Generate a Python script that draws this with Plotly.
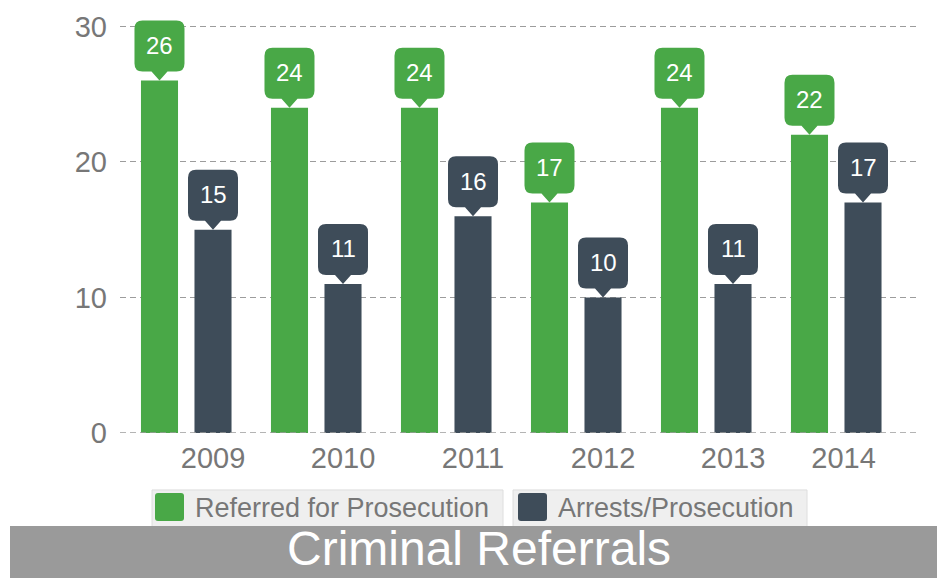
import plotly.graph_objects as go

# ---- data ----
YEARS = ["2009", "2010", "2011", "2012", "2013", "2014"]
REFERRED = [26, 24, 24, 17, 24, 22]
ARRESTS = [15, 11, 16, 10, 11, 17]
SERIES_NAMES = ["Referred for Prosecution", "Arrests/Prosecution"]
TITLE = "Criminal Referrals"
Y_TICKS = [0, 10, 20, 30]

# ---- style ----
GREEN = "#49a847"
SLATE = "#3e4c59"
GREY_TEXT = "#777777"
GRID = "#9c9c9c"
FONT = "Liberation Sans, Arial, sans-serif"

W, H = 937, 578
BASE_PX = 433          # pixel row of the zero line
PX_PER_UNIT = 407 / 30.0
Y_TOP = 31.8           # head-room above the 30 gridline for the value bubbles
L, R, B = 120, 17, H - BASE_PX
T = BASE_PX - Y_TOP * PX_PER_UNIT
PLOT_W, PLOT_H = W - L - R, H - T - B

HALF_GAP = 0.2058   # distance of each bar centre from the group centre
BAR_W = 0.285
X_RANGE = [-0.5096, -0.5096 + PLOT_W / 130.0]
LABEL_NUDGE = {5: -0.15}  # last year label sits a little left of its bar


def px_x(px):
    return (px - L) / PLOT_W


def px_y(py):
    return (H - B - py) / PLOT_H


idx = list(range(len(YEARS)))
x_green = [i - HALF_GAP for i in idx]
x_slate = [i + HALF_GAP for i in idx]

fig = go.Figure()
fig.add_trace(go.Bar(x=x_green, y=REFERRED, width=BAR_W, marker_color=GREEN,
                     marker_line_width=0, name=SERIES_NAMES[0]))
fig.add_trace(go.Bar(x=x_slate, y=ARRESTS, width=BAR_W, marker_color=SLATE,
                     marker_line_width=0, name=SERIES_NAMES[1]))

shapes = []
annotations = []

# speech-bubble value labels above each bar (pixel-sized, anchored at bar top)
BUBBLE = ("M 0,0 L 8,9 L 17,9 Q 25,9 25,17 L 25,52 Q 25,60 17,60 "
          "L -17,60 Q -25,60 -25,52 L -25,17 Q -25,9 -17,9 L -8,9 Z")
for xs, ys, col in ((x_green, REFERRED, GREEN), (x_slate, ARRESTS, SLATE)):
    for x, v in zip(xs, ys):
        shapes.append(dict(type="path", path=BUBBLE, xref="x", yref="y",
                           xsizemode="pixel", ysizemode="pixel",
                           xanchor=x, yanchor=v, fillcolor=col,
                           line=dict(width=0), layer="above"))
        annotations.append(dict(x=x, y=v, xref="x", yref="y", text=str(v),
                                showarrow=False, yshift=35, yanchor="middle",
                                font=dict(family=FONT, size=24, color="white")))

# dashed baseline drawn over the bars
shapes.append(dict(type="line", xref="paper", yref="y", x0=0, x1=1, y0=0, y1=0,
                   line=dict(color=GRID, width=1.3, dash="6px,4px"),
                   layer="above"))

# legend boxes
legend_items = [
    (152, 503, 155, 195, GREEN, SERIES_NAMES[0]),
    (513, 807, 518, 558, SLATE, SERIES_NAMES[1]),
]
for bx0, bx1, sx, tx, col, name in legend_items:
    shapes.append(dict(type="rect", xref="paper", yref="paper",
                       x0=px_x(bx0), x1=px_x(bx1), y0=px_y(527), y1=px_y(490),
                       fillcolor="#efefef", line=dict(color="#dedede", width=1),
                       layer="below"))
    shapes.append(dict(type="path", xref="paper", yref="paper",
                       xsizemode="pixel", ysizemode="pixel",
                       xanchor=px_x(sx), yanchor=px_y(521),
                       path="M 3,0 L 26,0 Q 29,0 29,3 L 29,25 Q 29,28 26,28 "
                            "L 3,28 Q 0,28 0,25 L 0,3 Q 0,0 3,0 Z",
                       fillcolor=col, line=dict(width=0)))
    annotations.append(dict(x=px_x(tx - 2), y=px_y(508), xref="paper", yref="paper",
                            text=name, showarrow=False, xanchor="left",
                            yanchor="middle",
                            font=dict(family=FONT, size=27, color=GREY_TEXT)))

# title banner
shapes.append(dict(type="rect", xref="paper", yref="paper",
                   x0=px_x(10), x1=px_x(W + 2), y0=px_y(H + 2), y1=px_y(526),
                   fillcolor="#9a9a9a", line=dict(width=0), layer="above"))
annotations.append(dict(x=px_x(479), y=px_y(549), xref="paper", yref="paper",
                        text=TITLE, showarrow=False, xanchor="center",
                        yanchor="middle", borderpad=0,
                        font=dict(family=FONT, size=48, color="white")))

tickvals = [i + HALF_GAP + LABEL_NUDGE.get(i, 0) for i in idx]

fig.update_layout(
    width=W, height=H,
    margin=dict(l=L, r=R, t=T, b=B, pad=0),
    paper_bgcolor="white", plot_bgcolor="white",
    barmode="overlay",
    showlegend=False,
    shapes=shapes,
    annotations=annotations,
    xaxis=dict(range=X_RANGE, tickvals=tickvals, ticktext=YEARS,
               showgrid=False, zeroline=False, showline=False, ticks="",
               ticklabelstandoff=5,
               tickfont=dict(family=FONT, size=29, color=GREY_TEXT)),
    yaxis=dict(range=[0, Y_TOP], tickvals=Y_TICKS, showgrid=True,
               gridcolor=GRID, gridwidth=1.3, griddash="6px,4px",
               zeroline=False, showline=False, ticks="",
               ticklabelstandoff=12,
               tickfont=dict(family=FONT, size=29, color=GREY_TEXT)),
)

fig.write_html("out.html")
